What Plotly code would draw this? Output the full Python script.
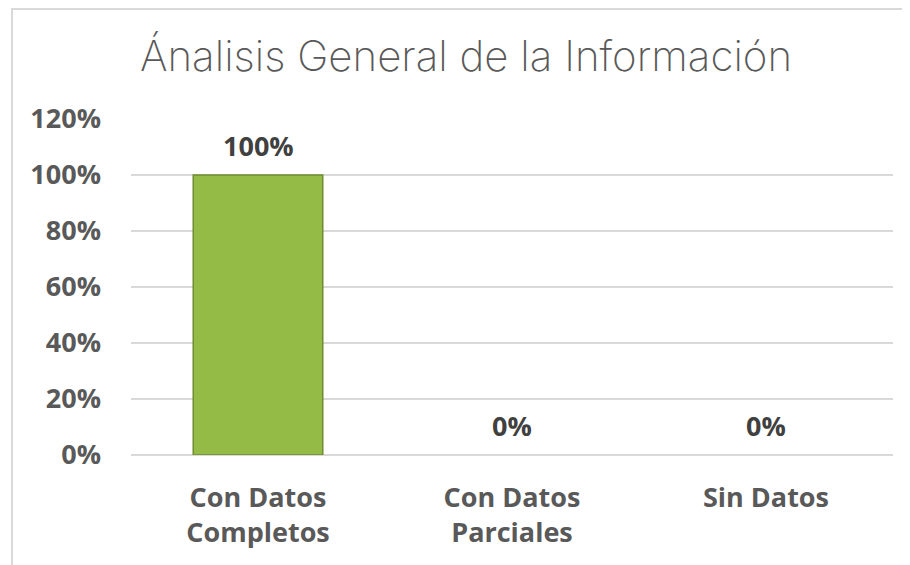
import plotly.graph_objects as go

categories = ["Con Datos<br>Completos", "Con Datos<br>Parciales", "Sin Datos"]
values = [1.0, 0.0, 0.0]
value_labels = ["100%", "0%", "0%"]
tick_vals = [0, 0.2, 0.4, 0.6, 0.8, 1.0, 1.2]
tick_text = ["0%", "20%", "40%", "60%", "80%", "100%", "120%"]
title_text = "Ánalisis General de la Información"

W, H = 910, 565
# page body adds an 8px offset, so margins are compensated
ML, MR, MT, MB = 123, 25, 111, 118
PW, PH = W - ML - MR, H - MT - MB

fig = go.Figure()
fig.add_trace(go.Bar(
    x=categories, y=values,
    marker=dict(color="#95BB47",
                line=dict(color="#6F8D30", width=[1.5 if v > 0 else 0 for v in values])),
    hoverinfo="skip",
))

for c, v, t in zip(categories, values, value_labels):
    fig.add_annotation(x=c, y=v, text=f"<b>{t}</b>", showarrow=False,
                       yshift=30, font=dict(family="Open Sans", size=27, color="#404040"))

fig.update_layout(
    width=W, height=H,
    margin=dict(l=ML, r=MR, t=MT, b=MB),
    paper_bgcolor="white", plot_bgcolor="white",
    showlegend=False,
    bargap=0.49,
    title=dict(text=title_text, x=458 / W, xref="container", xanchor="center",
               y=1 - 48 / H, yref="container", yanchor="middle",
               font=dict(family="Inter", size=42, color="#595959", weight=200)),
    font=dict(family="Open Sans", color="#595959"),
)
fig.update_yaxes(range=[0, 1.2], tickvals=tick_vals, ticktext=tick_text,
                 showgrid=True, gridcolor="#D9D9D9", gridwidth=1.5,
                 zeroline=True, zerolinecolor="#D9D9D9", zerolinewidth=1.5,
                 showline=False, ticks="", ticklabelstandoff=29,
                 tickfont=dict(family="Open Sans", size=27, color="#595959", weight="bold"),
                 fixedrange=True)
fig.update_xaxes(showgrid=False, showline=False, ticks="", ticklabelstandoff=24,
                 tickfont=dict(family="Open Sans", size=27, color="#595959", weight="bold"),
                 fixedrange=True)

# chart frame (left and top edges visible)
fig.add_shape(type="rect", xref="paper", yref="paper",
              x0=-(ML - 4) / PW, x1=(W - ML + 20) / PW,
              y0=-(MB + 20) / PH, y1=1 + (MT - 1) / PH,
              line=dict(color="#D9D9D9", width=2), layer="below")

fig.write_html("out.html")
